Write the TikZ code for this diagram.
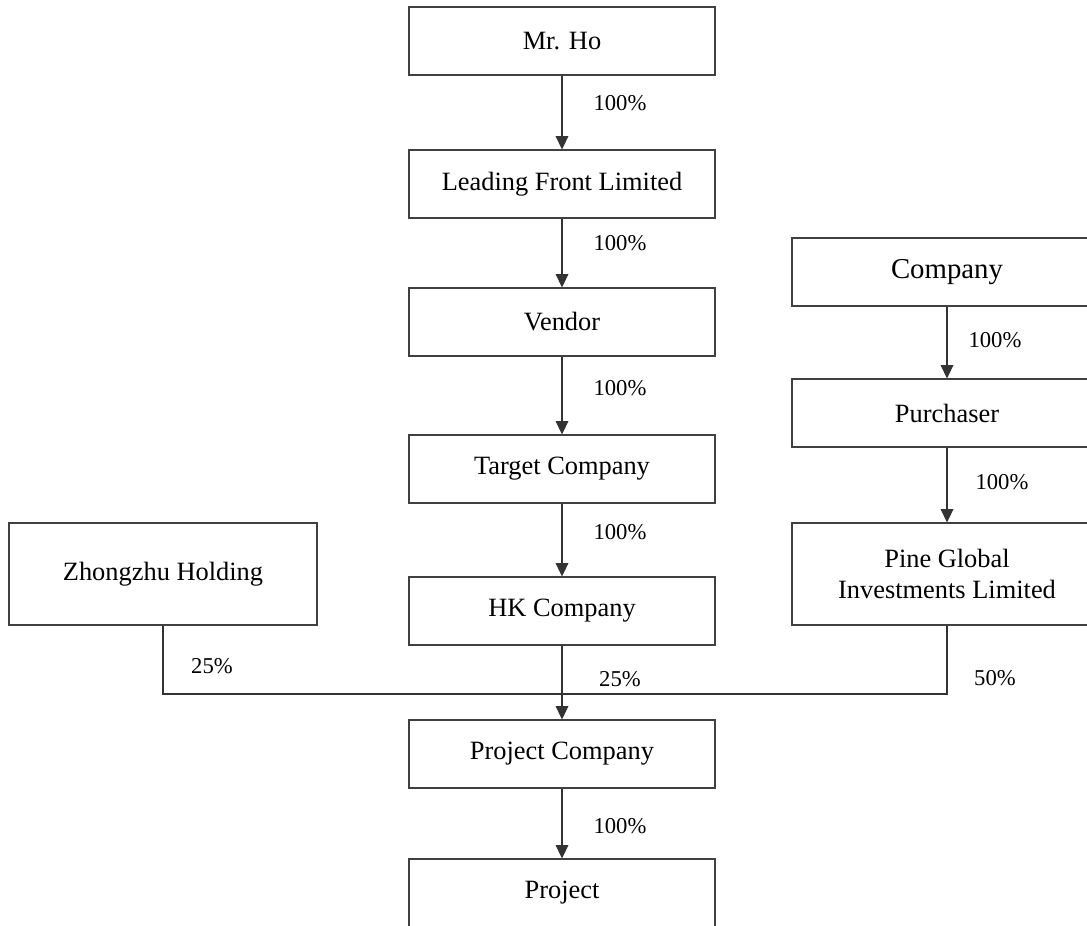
\documentclass[tikz,border=0pt]{standalone}
\usepackage{fontspec}
\setmainfont{Liberation Serif}
\usetikzlibrary{arrows.meta,positioning}

\begin{document}
\begin{tikzpicture}[
    x=0.75pt, y=-0.75pt,
    box/.style={rectangle, draw=black!75, line width=0.8pt, inner sep=0pt,
                minimum width=229.5pt, minimum height=51pt, align=center,
                font=\fontsize{19.8}{23.3}\selectfont},
    pct/.style={font=\fontsize{17}{20}\selectfont},
    arrow/.style={-{Triangle[length=10pt,width=9.5pt]}, line width=0.8pt, black!80},
    link/.style={line width=0.8pt, black!80}
]
    \clip (0,0) rectangle (1087,925);

    % main chain
    \node[box] (ho) at (562,41) {Mr. Ho};
    \node[box] (lead) at (562,184) {Leading Front Limited};
    \node[box] (vendor) at (562,322) {Vendor};
    \node[box] (target) at (562,469) {Target Company};
    \node[box] (hk) at (562,611) {HK Company};
    \node[box] (projco) at (562,754) {Project Company};
    \node[box, minimum height=67.5pt] (project) at (562,904) {};
    \node[font=\fontsize{19.8}{23.3}\selectfont] (projtext) at (562,893) {Project};

    % right chain
    \node[box, minimum width=232.5pt, font=\fontsize{21.6}{25}\selectfont] (company) at (947,272) {Company};
    \node[box, minimum width=232.5pt] (purch) at (947,413) {Purchaser};
    \node[box, minimum width=232.5pt, minimum height=76.5pt] (pine) at (947,574) {Pine Global\\Investments Limited};

    % left
    \node[box, minimum width=231pt, minimum height=76.5pt] (zhong) at (163,574) {Zhongzhu Holding};

    \draw[arrow] (ho) -- (lead);
    \draw[arrow] (lead) -- (vendor);
    \draw[arrow] (vendor) -- (target);
    \draw[arrow] (target) -- (hk);
    \draw[arrow] (hk) -- (projco);
    \draw[arrow] (projco) -- (project);
    \draw[arrow] (company) -- (purch);
    \draw[arrow] (purch) -- (pine);

    \coordinate (merge) at (562,694);
    \draw[link] (zhong.south) |- (merge) -| (pine.south);

    \node[pct] (p1) at (620,103) {100\%};
    \node[pct] (p2) at (620,243) {100\%};
    \node[pct] (p3) at (620,388) {100\%};
    \node[pct] (p4) at (620,532) {100\%};
    \node[pct] (p5) at (620,826) {100\%};
    \node[pct] (p6) at (995,340) {100\%};
    \node[pct] (p7) at (1002,482) {100\%};
    \node[pct] (p8) at (212,666) {25\%};
    \node[pct] (p9) at (620,679) {25\%};
    \node[pct] (p10) at (995,678) {50\%};
\end{tikzpicture}
\end{document}
